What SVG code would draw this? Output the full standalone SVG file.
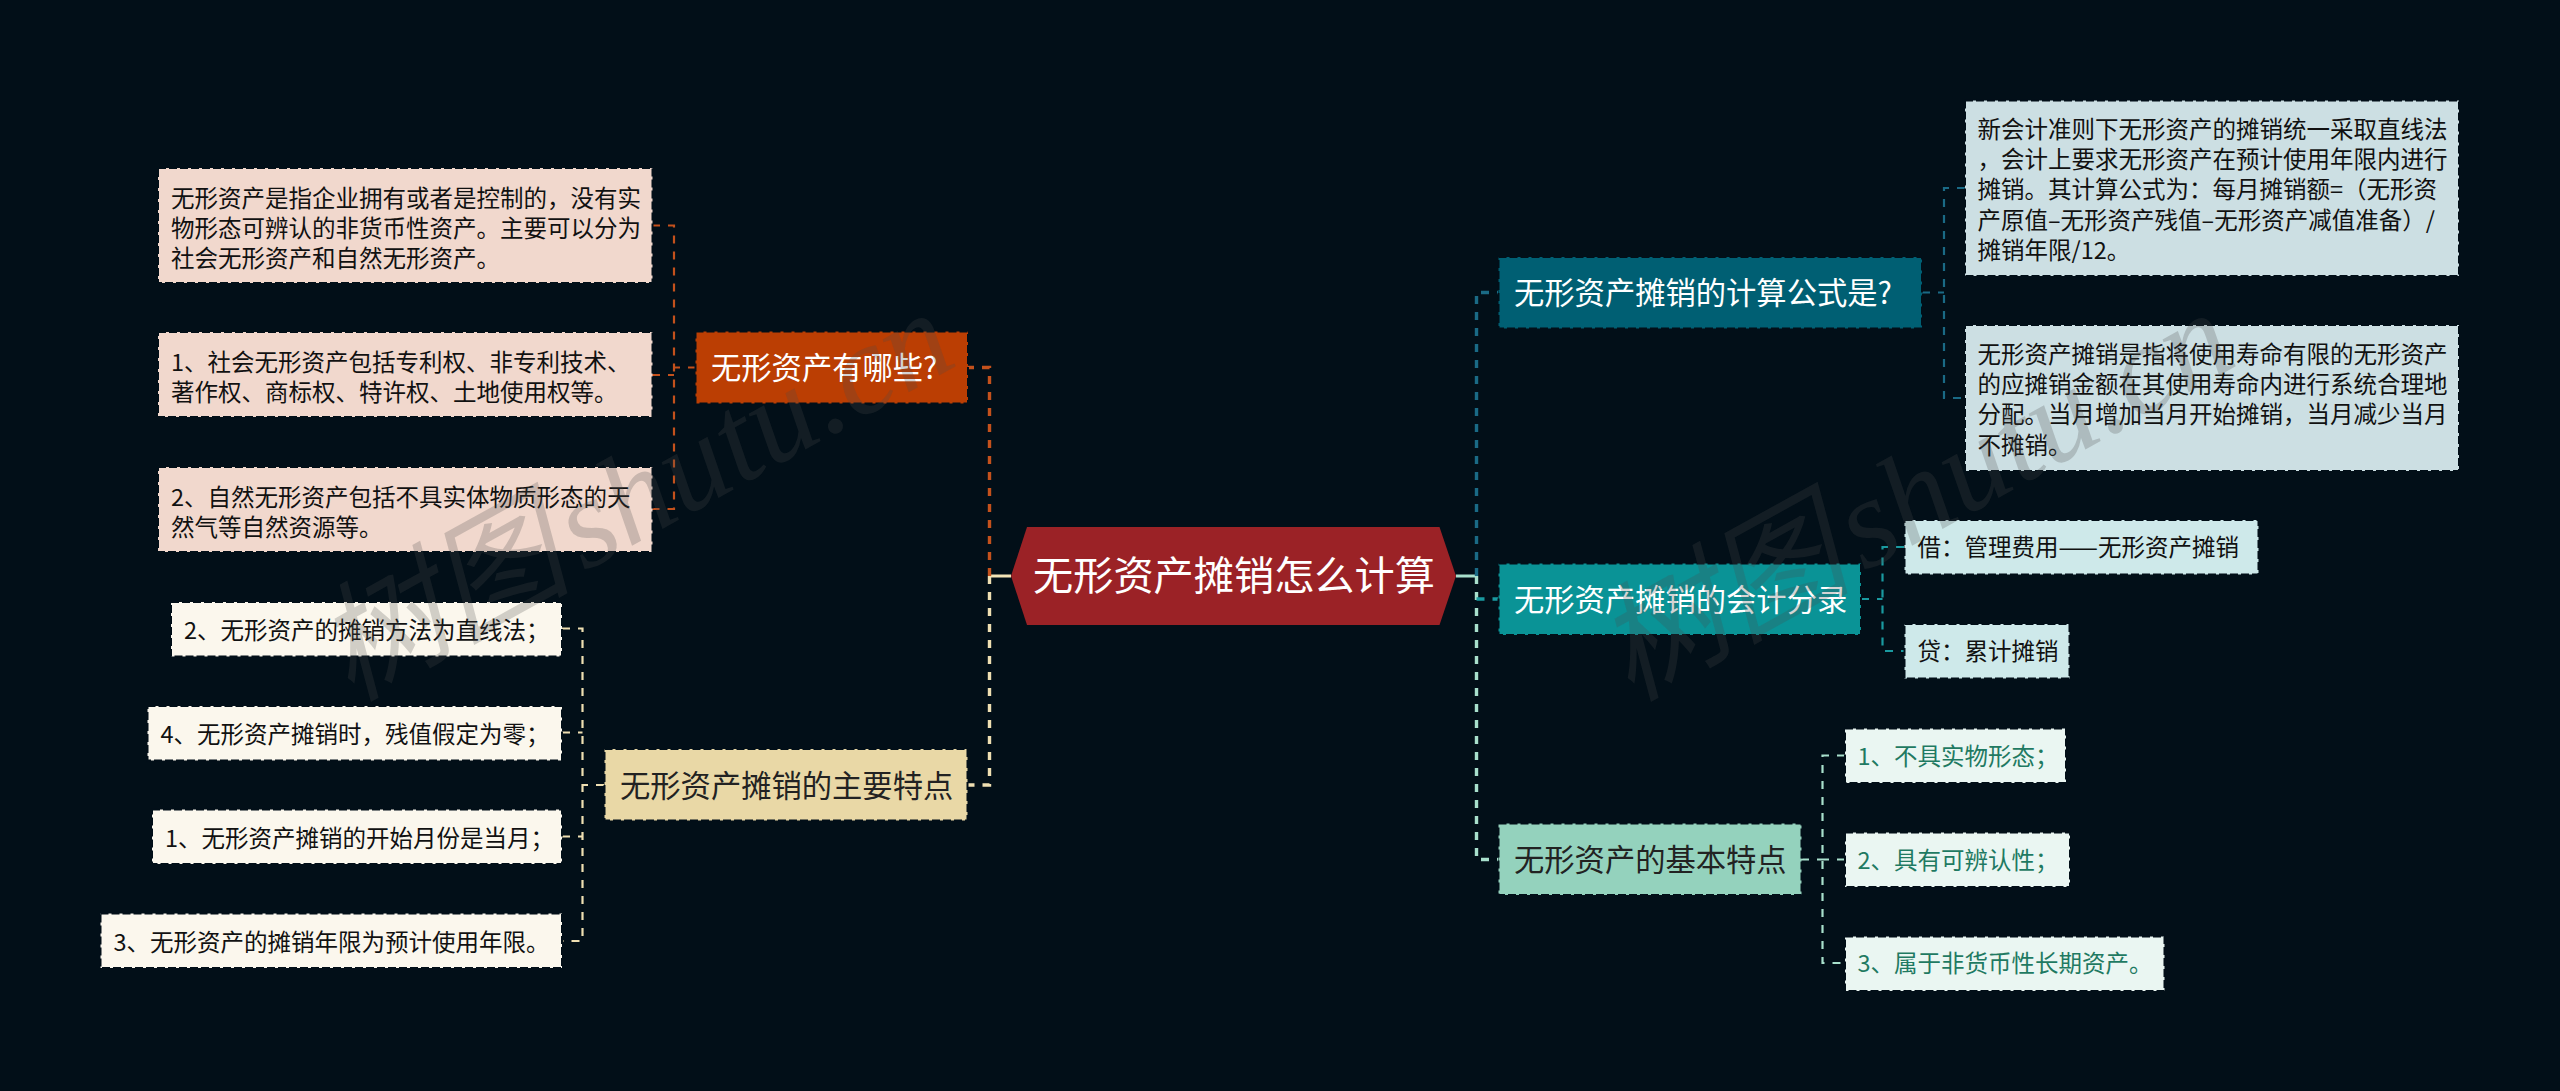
<svg xmlns="http://www.w3.org/2000/svg" width="2560" height="1091" viewBox="0 0 2560 1091">
<style>
text{font-family:"Noto Sans CJK SC","Liberation Sans",sans-serif}
.n rect{stroke:#020f18;stroke-width:2;stroke-dasharray:8 3}
.t{font-size:30.3px}
.s{font-size:23.5px;fill:#111}
.w{fill:#fff}
.k{fill:#222}
.g{fill:#1f7a62}
.c{fill:none;stroke-dasharray:8 8}
.o{stroke-width:3.4}
.i{stroke-width:2.2}
.wm{font-family:"Liberation Serif","Noto Sans CJK SC",serif;font-style:italic;font-size:128px;word-spacing:-20px;fill:#4c4c4c;fill-opacity:.24}
</style>
<rect width="2560" height="1091" fill="#020f18"/>
<g id="connectors">
<path d="M1011 576H989.5" fill="none" stroke="#f3e4b6" stroke-width="3"/>
<path d="M1456 576H1476.5" fill="none" stroke="#a8e0cc" stroke-width="3"/>
<path class="c o" stroke="#c4511c" d="M989.5 576V367.5H968"/>
<path class="c o" stroke="#efdfb2" d="M989.5 576V785H968"/>
<path class="c o" stroke="#1a6a85" d="M1476.5 576V292.5H1498"/>
<path class="c o" stroke="#a8e0cc" d="M1476.5 576V859.5H1498"/>
<path class="c o" stroke="#1a9aa0" d="M1476.5 599H1498"/>
<path class="c i" stroke="#c4511c" d="M696 367.5H674M652 225.5H674V509H652M652 375H674"/>
<path class="c i" stroke="#efdfb2" d="M604 785H582.5M562 628.5H582.5V941H562M562 732.5H582.5M562 836.5H582.5"/>
<path class="c i" stroke="#1a6a85" d="M1922 292.5H1944M1965 188H1944V398H1965"/>
<path class="c i" stroke="#1a9aa0" d="M1861 599H1882.5M1904 547H1882.5V651H1904"/>
<path class="c i" stroke="#a8e0cc" d="M1801 859.5H1822.5M1845 755.5H1822.5V963H1845M1845 859.5H1822.5"/>
</g>
<g id="root"><polygon points="1027,527 1439.5,527 1456,576 1439.5,625 1027,625 1011,576" fill="#9b2226"/><text x="1033" y="590" font-size="40.2" fill="#fff">无形资产摊销怎么计算</text></g>
<g id="n-a" class="n"><rect x="695.5" y="331.5" width="272.5" height="72" fill="#bb3e03"/><text class="t w" x="711" y="379">无形资产有哪些?</text></g>
<g id="n-a1" class="n"><rect x="158" y="168" width="494.5" height="115" fill="#f1d8cd"/><text class="s"><tspan x="171" y="207">无形资产是指企业拥有或者是控制的，没有实</tspan><tspan x="171" y="237">物形态可辨认的非货币性资产。主要可以分为</tspan><tspan x="171" y="267">社会无形资产和自然无形资产。</tspan></text></g>
<g id="n-a2" class="n"><rect x="158" y="332" width="494.5" height="85" fill="#f1d8cd"/><text class="s"><tspan x="171" y="371">1、社会无形资产包括专利权、非专利技术、</tspan><tspan x="171" y="401">著作权、商标权、特许权、土地使用权等。</tspan></text></g>
<g id="n-a3" class="n"><rect x="158" y="467" width="494.5" height="85" fill="#f1d8cd"/><text class="s"><tspan x="171" y="506">2、自然无形资产包括不具实体物质形态的天</tspan><tspan x="171" y="536">然气等自然资源等。</tspan></text></g>
<g id="n-b" class="n"><rect x="604.5" y="749" width="363" height="71.5" fill="#e9d8a6"/><text class="t k" x="620" y="796.5">无形资产摊销的主要特点</text></g>
<g id="n-b1" class="n"><rect x="171" y="602" width="391" height="54.5" fill="#fbf7ed"/><text class="s" x="184" y="639">2、无形资产的摊销方法为直线法；</text></g>
<g id="n-b2" class="n"><rect x="147.5" y="706" width="414.5" height="54.5" fill="#fbf7ed"/><text class="s" x="160.5" y="743">4、无形资产摊销时，残值假定为零；</text></g>
<g id="n-b3" class="n"><rect x="152" y="809.5" width="410" height="54.5" fill="#fbf7ed"/><text class="s" x="165" y="847">1、无形资产摊销的开始月份是当月；</text></g>
<g id="n-b4" class="n"><rect x="100.5" y="913.5" width="461.5" height="54.5" fill="#fbf7ed"/><text class="s" x="113.5" y="951">3、无形资产的摊销年限为预计使用年限。</text></g>
<g id="n-c" class="n"><rect x="1498.5" y="257" width="423.5" height="71.5" fill="#005f73"/><text class="t w" x="1514" y="304">无形资产摊销的计算公式是?</text></g>
<g id="n-c1" class="n"><rect x="1965" y="100.5" width="494" height="175.5" fill="#ccdfe3"/><text class="s"><tspan x="1977.5" y="138">新会计准则下无形资产的摊销统一采取直线法</tspan><tspan x="1977.5" y="168">，会计上要求无形资产在预计使用年限内进行</tspan><tspan x="1977.5" y="198">摊销。其计算公式为：每月摊销额=（无形资</tspan><tspan x="1977.5" y="228.5">产原值–无形资产残值–无形资产减值准备）/</tspan><tspan x="1977.5" y="259">摊销年限/12。</tspan></text></g>
<g id="n-c2" class="n"><rect x="1965" y="325" width="494" height="146" fill="#ccdfe3"/><text class="s"><tspan x="1977.5" y="362.5">无形资产摊销是指将使用寿命有限的无形资产</tspan><tspan x="1977.5" y="393">的应摊销金额在其使用寿命内进行系统合理地</tspan><tspan x="1977.5" y="423">分配。当月增加当月开始摊销，当月减少当月</tspan><tspan x="1977.5" y="453.5">不摊销。</tspan></text></g>
<g id="n-d" class="n"><rect x="1498.5" y="563.5" width="362.5" height="71.5" fill="#0a9396"/><text class="t w" x="1514" y="610.5">无形资产摊销的会计分录</text></g>
<g id="n-d1" class="n"><rect x="1904.5" y="520" width="354" height="54.5" fill="#cee9ea"/><text class="s" x="1917.5" y="556">借：管理费用——无形资产摊销</text></g>
<g id="n-d2" class="n"><rect x="1904.5" y="624" width="165" height="54.5" fill="#cee9ea"/><text class="s" x="1917.5" y="660">贷：累计摊销</text></g>
<g id="n-e" class="n"><rect x="1498.5" y="823.5" width="303" height="71.5" fill="#94d2bd"/><text class="t k" x="1514" y="871">无形资产的基本特点</text></g>
<g id="n-e1" class="n"><rect x="1845" y="728.5" width="221" height="54.5" fill="#eaf6f2"/><text class="s g" x="1857.5" y="765">1、不具实物形态；</text></g>
<g id="n-e2" class="n"><rect x="1845" y="832.5" width="225" height="54.5" fill="#eaf6f2"/><text class="s g" x="1857.5" y="868.5">2、具有可辨认性；</text></g>
<g id="n-e3" class="n"><rect x="1845" y="936.5" width="319.5" height="54.5" fill="#eaf6f2"/><text class="s g" x="1857.5" y="972">3、属于非货币性长期资产。</text></g>
<text class="wm" transform="translate(350 702) rotate(-29)">树图 shutu.cn</text>
<text class="wm" transform="translate(1630 702) rotate(-29)">树图 shutu.cn</text>
</svg>
